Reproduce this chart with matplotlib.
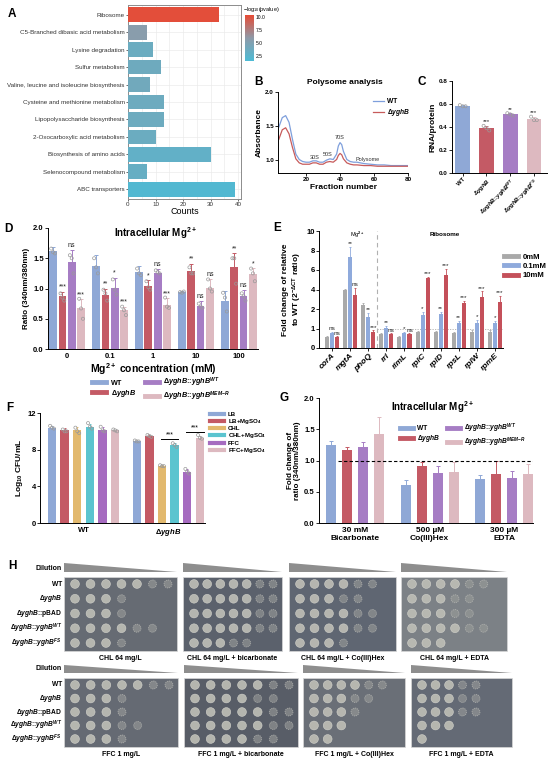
import numpy as np
import matplotlib
matplotlib.use("Agg")
import matplotlib.pyplot as plt
from matplotlib.colors import LinearSegmentedColormap, Normalize
from matplotlib.cm import ScalarMappable
from matplotlib.lines import Line2D
from matplotlib.patches import Polygon, Rectangle, Circle

plt.rcParams["font.family"] = ["Liberation Sans", "DejaVu Sans"]
plt.rcParams["mathtext.fontset"] = "custom"
plt.rcParams["mathtext.rm"] = "Liberation Sans:bold"
plt.rcParams["mathtext.it"] = "Liberation Sans:italic:bold"
plt.rcParams["mathtext.bf"] = "Liberation Sans:bold"
plt.rcParams["mathtext.sf"] = "Liberation Sans"
plt.rcParams["axes.linewidth"] = 0.7

# ---- A: KEGG enrichment
PATHWAYS = ["Ribosome", "C5-Branched dibasic acid metabolism", "Lysine degradation",
            "Sulfur metabolism", "Valine, leucine and isoleucine biosynthesis",
            "Cysteine and methionine metabolism", "Lipopolysaccharide biosynthesis",
            "2-Oxocarboxylic acid metabolism", "Biosynthesis of amino acids",
            "Selenocompound metabolism", "ABC transporters"]
COUNTS = [33, 7, 9, 12, 8, 13, 13, 10, 30, 7, 39]
LOGP = [10.2, 5.6, 3.6, 3.8, 4.0, 3.7, 3.7, 3.6, 3.0, 3.3, 1.9]

# ---- B: polysome profile
FRACTION = [4, 6, 8, 10, 12, 14, 16, 18, 20, 22, 24, 26, 28, 30, 32, 34, 36, 38, 39,
            40, 41, 42, 44, 46, 48, 50, 54, 58, 62, 66, 70, 75, 80]
ABS_WT = [1.48, 1.62, 1.65, 1.55, 1.30, 1.08, 1.00, 0.97, 0.96, 0.96, 0.98, 0.98, 0.96,
          0.96, 0.99, 1.01, 1.00, 1.08, 1.20, 1.25, 1.22, 1.12, 1.00, 0.97, 0.96, 0.96,
          0.94, 0.93, 0.92, 0.92, 0.91, 0.91, 0.91]
ABS_DEL = [1.30, 1.44, 1.47, 1.38, 1.18, 1.01, 0.95, 0.93, 0.93, 0.93, 0.95, 0.95, 0.93,
           0.93, 0.96, 0.97, 0.96, 1.00, 1.06, 1.09, 1.07, 1.01, 0.95, 0.93, 0.92, 0.92,
           0.91, 0.91, 0.90, 0.90, 0.90, 0.90, 0.90]

# ---- C: RNA/protein
C_STRAINS = [r"WT", r"$\Delta\it{yghB}$", r"$\Delta\it{yghB}$::$\it{yghB}^{WT}$",
             r"$\Delta\it{yghB}$::$\it{yghB}^{FS}$"]
C_MEAN = [0.58, 0.39, 0.51, 0.47]
C_ERR = [0.01, 0.02, 0.01, 0.02]
C_REPS = [[0.59, 0.58, 0.58], [0.41, 0.39, 0.37], [0.52, 0.51, 0.50], [0.49, 0.46, 0.46]]
C_SIG = ["", "***", "**", "***"]

# ---- D: intracellular Mg2+ vs Mg2+ concentration
D_CONC = ["0", "0.1", "1", "10", "100"]
D_MEAN = [[1.62, 1.37, 1.27, 0.94, 0.80],
          [0.87, 0.90, 1.04, 1.29, 1.36],
          [1.43, 1.01, 1.26, 0.71, 0.87],
          [0.67, 0.64, 0.72, 1.01, 1.24]]
D_ERR = [[0.06, 0.18, 0.10, 0.02, 0.16],
         [0.08, 0.10, 0.10, 0.12, 0.22],
         [0.20, 0.17, 0.06, 0.08, 0.10],
         [0.15, 0.06, 0.12, 0.15, 0.10]]
D_REPS = [[[1.66, 1.60, 1.58], [1.50, 1.35, 1.25], [1.33, 1.25, 1.22], [0.94, 0.93, 0.95], [0.93, 0.85, 0.62]],
          [[0.92, 0.85, 0.80], [0.98, 0.92, 0.80], [1.12, 1.02, 0.98], [1.35, 1.25, 1.25], [1.50, 1.50, 1.08]],
          [[1.55, 1.50, 1.25], [1.15, 0.98, 0.90], [1.30, 1.27, 1.25], [0.75, 0.70, 0.68], [0.92, 0.87, 0.80]],
          [[0.83, 0.67, 0.50], [0.70, 0.64, 0.56], [0.85, 0.70, 0.68], [1.15, 1.00, 0.95], [1.33, 1.25, 1.12]]]
D_SIG = [["", "", "", "", ""],
         ["***", "**", "*", "**", "**"],
         ["ns", "*", "ns", "ns", "ns"],
         ["***", "***", "***", "ns", "*"]]
STRAIN_LABELS = [r"WT", r"$\Delta\it{yghB}$", r"$\Delta\it{yghB}$::$\it{yghB}^{WT}$",
                 r"$\Delta\it{yghB}$::$\it{yghB}^{MEM\!-\!R}$"]

# ---- E: qPCR
GENES = ["corA", "mgtA", "phoQ", "rrl", "rimL", "rplC", "rplD", "rpsL", "rplW", "rpmE"]
E_MEAN = [[0.55, 3.9, 2.4, 0.70, 0.55, 0.80, 0.80, 0.75, 0.80, 0.80],
          [0.75, 7.3, 1.6, 1.05, 0.75, 1.70, 1.75, 1.30, 1.30, 1.30],
          [0.55, 3.4, 0.8, 0.70, 0.70, 5.20, 5.45, 2.65, 3.20, 2.75]]
E_ERR = [[0.08, 0.15, 0.2, 0.08, 0.08, 0.05, 0.08, 0.08, 0.10, 0.10],
         [0.08, 1.10, 0.2, 0.10, 0.08, 0.15, 0.12, 0.10, 0.15, 0.10],
         [0.05, 0.80, 0.1, 0.05, 0.05, 0.10, 0.70, 0.20, 0.60, 0.60]]
E_SIG = [["", "", "", "", "", "", "", "", "", ""],
         ["ns", "**", "**", "**", "*", "*", "**", "**", "*", "*"],
         ["ns", "ns", "***", "ns", "ns", "***", "***", "***", "***", "***"]]
E_LEVELS = ["0mM", "0.1mM", "10mM"]

# ---- F: survival
F_GROUPS = ["WT", r"$\Delta\it{yghB}$"]
F_CONDS = ["LB", r"LB+MgSO$_4$", "CHL", r"CHL+MgSO$_4$", "FFC", r"FFC+MgSO$_4$"]
F_MEAN = [[10.4, 10.1, 10.1, 10.5, 10.2, 10.1],
          [8.9, 9.5, 6.2, 8.5, 5.6, 9.3]]
F_ERR = [[0.2, 0.3, 0.4, 0.3, 0.3, 0.1],
         [0.1, 0.1, 0.1, 0.2, 0.3, 0.2]]
F_REPS = [[[10.6, 10.4, 10.3], [10.2, 10.0, 10.0], [10.4, 10.0, 9.8], [10.9, 10.5, 10.3], [10.5, 10.1, 10.0], [10.2, 10.1, 10.0]],
          [[9.0, 8.9, 8.9], [9.6, 9.5, 9.4], [6.3, 6.2, 6.2], [8.7, 8.5, 8.3], [5.9, 5.6, 5.4], [9.6, 9.3, 9.2]]]

# ---- G: intracellular Mg2+ under treatments
G_TREAT = ["30 mM\nBicarbonate", "500 µM\nCo(III)Hex", "300 µM\nEDTA"]
G_MEAN = [[1.25, 0.61, 0.70],
          [1.17, 0.91, 0.79],
          [1.22, 0.80, 0.72],
          [1.42, 0.82, 0.78]]
G_ERR = [[0.06, 0.08, 0.07],
         [0.05, 0.07, 0.20],
         [0.08, 0.12, 0.11],
         [0.27, 0.16, 0.16]]

# ---- H: spot assays (number of dilution spots with visible growth)
H_STRAINS = ["WT", r"$\Delta\it{yghB}$", r"$\Delta\it{yghB}$::pBAD",
             r"$\Delta\it{yghB}$::$\it{yghB}^{WT}$", r"$\Delta\it{yghB}$::$\it{yghB}^{FS}$"]
H_PLATES = [["CHL 64 mg/L", "CHL 64 mg/L + bicarbonate", "CHL 64 mg/L + Co(III)Hex", "CHL 64 mg/L + EDTA"],
            ["FFC 1 mg/L", "FFC 1 mg/L + bicarbonate", "FFC 1 mg/L + Co(III)Hex", "FFC 1 mg/L + EDTA"]]
H_GROWTH = [[[7, 4, 4, 6, 4], [7, 7, 7, 7, 5], [6, 5, 6, 6, 4], [6, 5, 5, 6, 3]],
            [[7, 4, 4, 5, 4], [7, 6, 7, 7, 6], [6, 5, 4, 3, 2], [5, 5, 5, 3, 1]]]

STRAIN_COLORS = ["#8FA8D6", "#C45A65", "#A67DC4", "#DDB9C0"]
E_COLORS = ["#A9A9A9", "#8FAADC", "#C4505A"]
F_COLORS = ["#8FA8D6", "#C45A65", "#E2B96E", "#5BC4CF", "#A66BC0", "#DDB9C0"]

W, H = 550, 763
fig = plt.figure(figsize=(W / 100, H / 100), dpi=100)


def px_axes(l, t, r, b, **kw):
    return fig.add_axes([l / W, 1 - b / H, (r - l) / W, (b - t) / H], **kw)


def ftext(x, y, s, **kw):
    return fig.text(x / W, 1 - y / H, s, **kw)


def letter(x, y, s):
    ftext(x, y, s, fontsize=8.5, fontweight="bold", va="center", ha="left")


def prism(ax, fs=5):
    ax.spines["top"].set_visible(False)
    ax.spines["right"].set_visible(False)
    ax.tick_params(labelsize=fs, width=0.6, length=2, pad=1)
    for lab in ax.get_xticklabels() + ax.get_yticklabels():
        lab.set_fontweight("bold")


def errbars(ax, xs, ys, errs, colors, lw=0.6, cap=1.2):
    if isinstance(colors, str):
        colors = [colors] * len(xs)
    for x, y, e, c in zip(xs, ys, errs, colors):
        ax.errorbar([x], [y], yerr=[[0], [e]], fmt="none", ecolor=c,
                    elinewidth=lw, capsize=cap, capthick=lw, zorder=3)


def stars(ax, x, top, s, fs=4.5):
    if s:
        ax.annotate(s, (x, top), xytext=(0, 0.3), textcoords="offset points",
                    ha="center", va="bottom", fontsize=fs, color="#222222")


# ===== A =====
cmap = LinearSegmentedColormap.from_list("kegg", ["#4DBBD5", "#8E9AA8", "#E64B35"])
norm = Normalize(vmin=1.55, vmax=10.4)
axA = px_axes(128, 5, 241, 199)
ypos = np.arange(len(PATHWAYS))[::-1]
axA.barh(ypos, COUNTS, height=0.85, color=cmap(norm(np.array(LOGP))), zorder=3)
axA.set_xlim(0, 41)
axA.set_ylim(-0.55, len(PATHWAYS) - 0.45)
axA.set_yticks(ypos)
axA.set_yticklabels(PATHWAYS, fontsize=4.55)
axA.get_yticklabels()[0].set_color("#E8302A")
axA.set_xticks([0, 10, 20, 30, 40])
axA.set_xticks([5, 15, 25, 35], minor=True)
axA.grid(True, which="both", color="#EBEBEB", lw=0.5, zorder=0)
axA.tick_params(labelsize=4.5, length=1.5, width=0.5, pad=1, colors="#333333")
axA.tick_params(which="minor", length=0)
for sp in axA.spines.values():
    sp.set_color("#8C8C8C")
axA.set_xlabel("Counts", fontsize=6.5, labelpad=0)
caxA = px_axes(245, 15, 254, 61)
cb = fig.colorbar(ScalarMappable(norm=norm, cmap=cmap), cax=caxA, ticks=[2.5, 5, 7.5, 10])
cb.ax.set_yticklabels(["2.5", "5.0", "7.5", "10.0"])
cb.ax.tick_params(labelsize=3.6, length=0, pad=1)
cb.outline.set_visible(False)
ftext(243, 9, r"$\mathsf{-log_{10}(pvalue)}$", fontsize=4, va="center")
letter(8, 14, "A")

# ===== B =====
axB = px_axes(278, 92, 408, 173)
axB.plot(FRACTION, ABS_WT, color="#7E9FDC", lw=0.9, label="WT")
axB.plot(FRACTION, ABS_DEL, color="#C75B5B", lw=0.9, label=r"$\Delta\it{yghB}$")
axB.set_xlim(3.5, 80)
axB.set_ylim(0.8, 2.0)
axB.set_xticks([20, 40, 60, 80])
axB.set_yticks([1.0, 1.5, 2.0])
prism(axB, 4.5)
for s, x, y in [("30S", 25, 0.99), ("50S", 33, 1.03), ("70S", 40, 1.29), ("Polysome", 56, 0.97)]:
    axB.text(x, y, s, fontsize=4, ha="center", va="bottom", color="#333333")
axB.set_xlabel("Fraction number", fontsize=6, fontweight="bold", labelpad=1)
axB.set_ylabel("Absorbance", fontsize=6, fontweight="bold", labelpad=2)
axB.legend(loc="upper right", bbox_to_anchor=(1.06, 1.0), frameon=False,
           handlelength=1.6, handletextpad=0.4, labelspacing=0.3,
           prop={"weight": "bold", "size": 4.8})
ftext(345, 83, "Polysome analysis", fontsize=6, fontweight="bold", ha="center", va="center")
letter(254, 82, "B")

# ===== C =====
axC = px_axes(452, 81, 547, 173)
xc = np.arange(len(C_MEAN))
axC.bar(xc, C_MEAN, width=0.62, color=STRAIN_COLORS, zorder=2)
errbars(axC, xc, C_MEAN, C_ERR, STRAIN_COLORS)
for i, reps in enumerate(C_REPS):
    axC.scatter([i - 0.12, i, i + 0.12], reps, s=5, facecolor="none",
                edgecolor="#9A9A9A", lw=0.5, zorder=4)
    stars(axC, i, C_MEAN[i] + C_ERR[i] + 0.01, C_SIG[i])
axC.set_xlim(-0.45, 3.55)
axC.set_ylim(0, 0.8)
axC.set_yticks([0, 0.2, 0.4, 0.6, 0.8])
axC.set_xticks(xc)
axC.set_xticklabels(C_STRAINS, rotation=45, ha="right", rotation_mode="anchor", fontsize=4.2)
prism(axC, 4.5)
axC.tick_params(axis="x", labelsize=4.2)
axC.set_ylabel("RNA/protein", fontsize=6, fontweight="bold", labelpad=2)
letter(418, 82, "C")

# ===== D =====
axD = px_axes(48, 228, 258, 349)
gsp = 4.6
offs = [-1.5, -0.5, 0.5, 1.5]
for s in range(4):
    xs = np.arange(5) * gsp + offs[s]
    axD.bar(xs, D_MEAN[s], width=0.82, color=STRAIN_COLORS[s], zorder=2,
            label=STRAIN_LABELS[s])
    errbars(axD, xs, D_MEAN[s], D_ERR[s], STRAIN_COLORS[s], lw=0.7, cap=1.3)
    for g in range(5):
        axD.scatter([xs[g] - 0.2, xs[g], xs[g] + 0.2], D_REPS[s][g], s=5,
                    facecolor="none", edgecolor="#9A9A9A", lw=0.5, zorder=4)
        stars(axD, xs[g], D_MEAN[s][g] + D_ERR[s][g] + 0.01, D_SIG[s][g], 5)
axD.set_xlim(-2.04, 4 * gsp + 2.04)
axD.set_ylim(0, 2.0)
axD.set_yticks([0, 0.5, 1.0, 1.5, 2.0])
axD.set_xticks(np.arange(5) * gsp)
axD.set_xticklabels(D_CONC)
prism(axD, 5.5)
axD.tick_params(axis="x", length=0, pad=3)
axD.set_ylabel("Ratio (340nm/380nm)", fontsize=5.8, fontweight="bold", labelpad=2)
axD.set_xlabel(r"Mg$^{2+}$ concentration (mM)", fontsize=7.5, fontweight="bold", labelpad=1)
ftext(155, 233, r"Intracellular Mg$^{2+}$", fontsize=7, fontweight="bold",
      ha="center", va="center")
handles = [Line2D([], [], color=c, lw=3.5) for c in STRAIN_COLORS]
axD.legend(handles, STRAIN_LABELS, loc="upper center", bbox_to_anchor=(0.54, -0.17),
           ncol=2, frameon=False, prop={"weight": "bold", "size": 5.2},
           handlelength=2.0, handletextpad=0.6, columnspacing=1.2, labelspacing=0.1)
letter(4, 229, "D")


# ===== E =====
def fwd(y):
    y = np.asarray(y, dtype=float)
    return np.where(y < 2, y, 2 + (y - 2) / 2)


def inv(z):
    z = np.asarray(z, dtype=float)
    return np.where(z < 2, z, 2 + (z - 2) * 2)


axE = px_axes(319, 231, 503, 348)
axE.set_yscale("function", functions=(fwd, inv))
esp = 3.6
for lv in range(3):
    xs = np.arange(len(GENES)) * esp + (lv - 1)
    axE.bar(xs, E_MEAN[lv], width=0.8, color=E_COLORS[lv], zorder=2, label=E_LEVELS[lv])
    errbars(axE, xs, E_MEAN[lv], E_ERR[lv], E_COLORS[lv], lw=0.6, cap=1.0)
    for g in range(len(GENES)):
        stars(axE, xs[g], E_MEAN[lv][g] + E_ERR[lv][g], E_SIG[lv][g], 4.6)
axE.set_xlim(-2.6, 34.0)
axE.set_ylim(0, 10)
axE.set_yticks([0, 1, 2, 4, 6, 8, 10])
axE.set_yticklabels(["0", "1", "2", "4", "6", "8", "10"])
axE.minorticks_off()
axE.axvline(9.0, color="#B0B0B0", ls=(0, (4, 3)), lw=0.8)
axE.plot([9.0, 34.0], [1, 1], color="#B0B0B0", ls=(0, (1.5, 1.5)), lw=0.6, zorder=1)
axE.set_xticks(np.arange(len(GENES)) * esp)
axE.set_xticklabels(GENES, rotation=45, ha="right", rotation_mode="anchor",
                    fontstyle="italic", fontsize=6)
prism(axE, 5.5)
axE.tick_params(axis="x", labelsize=6, pad=1)
axE.text(5.0, 9.6, r"Mg$^{2+}$", fontsize=4, ha="center", va="center")
axE.text(22.5, 9.6, "Ribosome", fontsize=4.5, fontweight="bold", ha="center", va="center")
axE.set_ylabel("Fold change of relative\n" + r"to WT (2$^{-\Delta\mathrm{CT}}$ ratio)",
               fontsize=6, fontweight="bold", labelpad=2, linespacing=1.1)
axE.legend([Line2D([], [], color=c, lw=3.5) for c in E_COLORS], E_LEVELS,
           loc="upper left", bbox_to_anchor=(0.97, 0.87), frameon=False,
           prop={"weight": "bold", "size": 5.6}, handlelength=1.8, handletextpad=0.5,
           labelspacing=0.25)
letter(273, 228, "E")

# ===== F =====
axF = px_axes(40, 413, 205, 523)
fsp = 6.7
for gi in range(2):
    xs = gi * fsp + np.arange(6)
    axF.bar(xs, F_MEAN[gi], width=0.66, color=F_COLORS, zorder=2)
    errbars(axF, xs, F_MEAN[gi], F_ERR[gi], F_COLORS, lw=0.6, cap=1.0)
    for c in range(6):
        axF.scatter([xs[c] - 0.15, xs[c], xs[c] + 0.15], F_REPS[gi][c], s=5,
                    facecolor="none", edgecolor="#9A9A9A", lw=0.5, zorder=4)
for a, b, y in [(fsp + 2, fsp + 3, 9.2), (fsp + 4, fsp + 5, 9.95)]:
    axF.plot([a - 0.1, b + 0.3], [y, y], color="black", lw=0.7)
    axF.text((a + b) / 2 + 0.1, y + 0.05, "***", fontsize=5, ha="center", va="bottom")
axF.set_xlim(-0.95, fsp + 5.4)
axF.set_ylim(0, 12)
axF.set_yticks([0, 4, 8, 12])
axF.set_xticks([2.5, fsp + 2.5])
axF.set_xticklabels(F_GROUPS)
prism(axF, 5.5)
axF.tick_params(axis="x", length=0, pad=3)
axF.set_ylabel(r"Log$_{10}$ CFU/mL", fontsize=6, fontweight="bold", labelpad=2)
axF.legend([Line2D([], [], color=c, lw=3.0) for c in F_COLORS], F_CONDS,
           loc="upper left", bbox_to_anchor=(1.0, 1.06), frameon=False,
           prop={"weight": "bold", "size": 4.4}, handlelength=2.2, handletextpad=0.6,
           labelspacing=0.0)
letter(6, 408, "F")

# ===== G =====
axG = px_axes(319, 398, 533, 523)
ggsp = 4.65
for s in range(4):
    xs = np.arange(3) * ggsp + s
    axG.bar(xs, G_MEAN[s], width=0.62, color=STRAIN_COLORS[s], zorder=2)
    errbars(axG, xs, G_MEAN[s], G_ERR[s], STRAIN_COLORS[s], lw=0.7, cap=1.3)
axG.plot([0.44, 12.6], [1, 1], color="black", ls=(0, (3, 2)), lw=0.8, zorder=4)
axG.set_xlim(-0.75, 12.6)
axG.set_ylim(0, 2.0)
axG.set_yticks([0, 0.5, 1.0, 1.5, 2.0])
axG.set_xticks(np.arange(3) * ggsp + 1.5)
axG.set_xticklabels(G_TREAT, linespacing=1.1)
prism(axG, 5.5)
axG.tick_params(axis="x", length=0, pad=3, labelsize=6)
axG.set_ylabel("Fold change of\nratio (340nm/380nm)", fontsize=5.8, fontweight="bold",
               labelpad=2, linespacing=1.1)
ftext(432, 407, r"Intracellular Mg$^{2+}$", fontsize=7, fontweight="bold",
      ha="center", va="center")
axG.legend(handles, STRAIN_LABELS, loc="upper left", bbox_to_anchor=(0.35, 0.86),
           ncol=2, frameon=False, prop={"weight": "bold", "size": 4.8},
           handlelength=2.0, handletextpad=0.6, columnspacing=1.0, labelspacing=0.1)
letter(280, 398, "G")

# ===== H =====
axH = px_axes(0, 0, W, H)
axH.set_xlim(0, W)
axH.set_ylim(H, 0)
axH.axis("off")
axH.set_zorder(-1)
rows = [dict(tri=(563, 572), top=577, bot=651, lab=658, dil=568,
             plates=[(64, 177), (183, 282), (289, 396), (401, 507)],
             colors=["#666B73", "#5B616C", "#5F6672", "#7C8186"]),
        dict(tri=(665, 673), top=678, bot=747, lab=754, dil=669,
             plates=[(64, 178), (184, 298), (303, 405), (411, 512)],
             colors=["#656A73", "#585D67", "#6A6F77", "#646A75"])]
for ri, row in enumerate(rows):
    t0, t1 = row["tri"]
    axH.text(62, row["dil"], "Dilution", fontsize=5, fontweight="bold", ha="right", va="center")
    ys = np.linspace(row["top"] + 7, row["bot"] - 8, 5)
    for si, lab in enumerate(H_STRAINS):
        axH.text(62, ys[si], lab, fontsize=4.8, fontweight="bold", ha="right", va="center")
    for pi, (l, r) in enumerate(row["plates"]):
        axH.add_patch(Polygon([(l, t0), (r, t1), (l, t1)], closed=True,
                              facecolor="#8E8E8E", edgecolor="none"))
        axH.add_patch(Rectangle((l, row["top"]), r - l, row["bot"] - row["top"],
                                facecolor=row["colors"][pi], edgecolor="#D8D8D8", lw=0.5))
        xs = np.linspace(l + 11, r - 9, 7)
        for si in range(5):
            n = H_GROWTH[ri][pi][si]
            for k in range(n):
                if k < n - 2 or k < 3:
                    axH.add_patch(Circle((xs[k], ys[si]), 4.4, facecolor="#BDBDB5",
                                         edgecolor="#D5D5CE", lw=0.4, alpha=0.92))
                else:
                    axH.add_patch(Circle((xs[k], ys[si]), 4.0, facecolor="#9A9C9A",
                                         edgecolor="#C8C8C2", lw=0.6, alpha=0.6,
                                         linestyle=(0, (1.5, 1))))
        axH.text((l + r) / 2, row["lab"], H_PLATES[ri][pi], fontsize=5, fontweight="bold",
                 ha="center", va="center")
letter(8, 566, "H")

fig.savefig("out.png", dpi=100)
